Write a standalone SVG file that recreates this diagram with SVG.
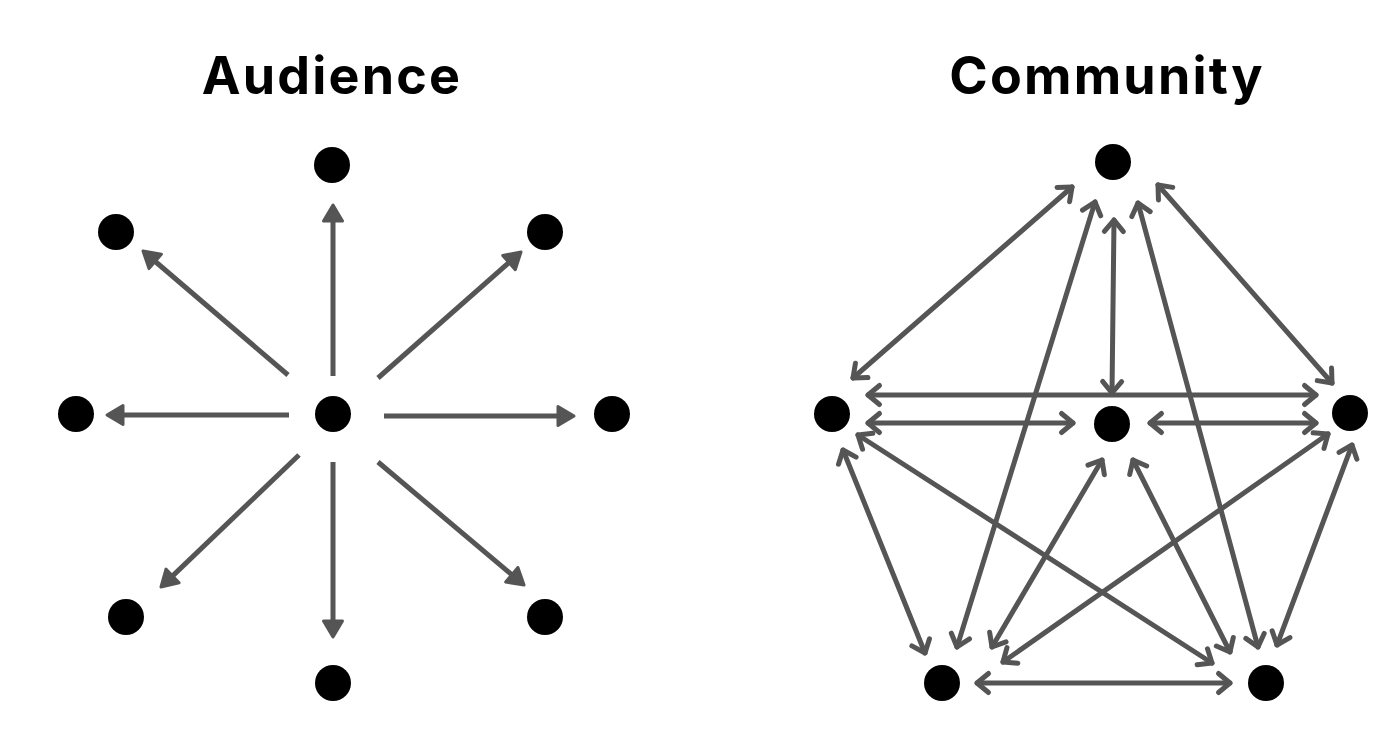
<svg xmlns="http://www.w3.org/2000/svg" width="1400" height="735" viewBox="0 0 1400 735">
  <style>
    .title { font-family: Inter, "Liberation Sans", sans-serif; font-weight: 700; font-size: 52px; letter-spacing: 2.2px; fill: #000; text-anchor: middle; }
    .node { fill: #000; }
    .aud { stroke: #555; stroke-width: 5; fill: none; marker-end: url(#tri); }
    .com { stroke: #555; stroke-width: 5; fill: none; stroke-linecap: round; marker-start: url(#chev); marker-end: url(#chev); }
  </style>
  <defs>
    <marker id="tri" markerUnits="userSpaceOnUse" orient="auto" refX="0" refY="0" markerWidth="40" markerHeight="40" overflow="visible">
      <path d="M10,0 L-6,-9.5 L-6,9.5 Z" fill="#555" stroke="#555" stroke-width="3" stroke-linejoin="round"/>
    </marker>
    <marker id="chev" markerUnits="userSpaceOnUse" orient="auto-start-reverse" refX="0" refY="0" markerWidth="40" markerHeight="40" overflow="visible">
      <path d="M-11.5,-9.5 L0,0 L-11.5,9.5" fill="none" stroke="#555" stroke-width="5" stroke-linecap="round" stroke-linejoin="round"/>
    </marker>
  </defs>
  <rect width="1400" height="735" fill="#fff"/>

  <text class="title" x="332" y="94">Audience</text>
  <text class="title" x="1107" y="94">Community</text>

  <g id="audience-connectors">
    <line class="aud" x1="333" y1="376" x2="333" y2="215"/>
    <line class="aud" x1="288" y1="375" x2="150.6" y2="257.5"/>
    <line class="aud" x1="378" y1="378" x2="513.5" y2="258.6"/>
    <line class="aud" x1="289" y1="415" x2="117" y2="415"/>
    <line class="aud" x1="384" y1="416" x2="564" y2="416"/>
    <line class="aud" x1="299" y1="455" x2="168.2" y2="580.1"/>
    <line class="aud" x1="333" y1="462" x2="333" y2="627"/>
    <line class="aud" x1="378" y1="462" x2="516.4" y2="578.6"/>
  </g>

  <g id="aud-center"><circle class="node" cx="333" cy="414" r="18"/></g>
  <g id="aud-top"><circle class="node" cx="332" cy="165" r="18"/></g>
  <g id="aud-topleft"><circle class="node" cx="116" cy="232" r="18"/></g>
  <g id="aud-topright"><circle class="node" cx="545" cy="232" r="18"/></g>
  <g id="aud-left"><circle class="node" cx="76" cy="414" r="18"/></g>
  <g id="aud-right"><circle class="node" cx="612" cy="414" r="18"/></g>
  <g id="aud-bottomleft"><circle class="node" cx="126" cy="617" r="18"/></g>
  <g id="aud-bottomright"><circle class="node" cx="545" cy="617" r="18"/></g>
  <g id="aud-bottom"><circle class="node" cx="333" cy="683" r="18"/></g>

  <g id="community-connectors">
    <line class="com" x1="1072" y1="187" x2="853" y2="378"/>
    <line class="com" x1="1095" y1="202" x2="957" y2="647"/>
    <line class="com" x1="1114" y1="220" x2="1112" y2="393"/>
    <line class="com" x1="1138" y1="203" x2="1258" y2="647"/>
    <line class="com" x1="1158" y1="185" x2="1332" y2="383"/>
    <line class="com" x1="868" y1="395" x2="1316" y2="395"/>
    <line class="com" x1="868" y1="423" x2="1073" y2="423"/>
    <line class="com" x1="1150" y1="423" x2="1316" y2="423"/>
    <line class="com" x1="843" y1="450" x2="925" y2="653"/>
    <line class="com" x1="858" y1="435" x2="1212" y2="663"/>
    <line class="com" x1="1328" y1="434" x2="1003" y2="662"/>
    <line class="com" x1="1352" y1="445" x2="1277" y2="645"/>
    <line class="com" x1="1102" y1="460" x2="992" y2="647"/>
    <line class="com" x1="1133" y1="460" x2="1230" y2="652"/>
    <line class="com" x1="977" y1="683" x2="1230" y2="683"/>
  </g>

  <g id="com-top"><circle class="node" cx="1113" cy="162" r="18"/></g>
  <g id="com-left"><circle class="node" cx="832" cy="414" r="18"/></g>
  <g id="com-center"><circle class="node" cx="1112" cy="424" r="18"/></g>
  <g id="com-right"><circle class="node" cx="1350" cy="413" r="18"/></g>
  <g id="com-bottomleft"><circle class="node" cx="942" cy="683" r="18"/></g>
  <g id="com-bottomright"><circle class="node" cx="1266" cy="683" r="18"/></g>
</svg>
